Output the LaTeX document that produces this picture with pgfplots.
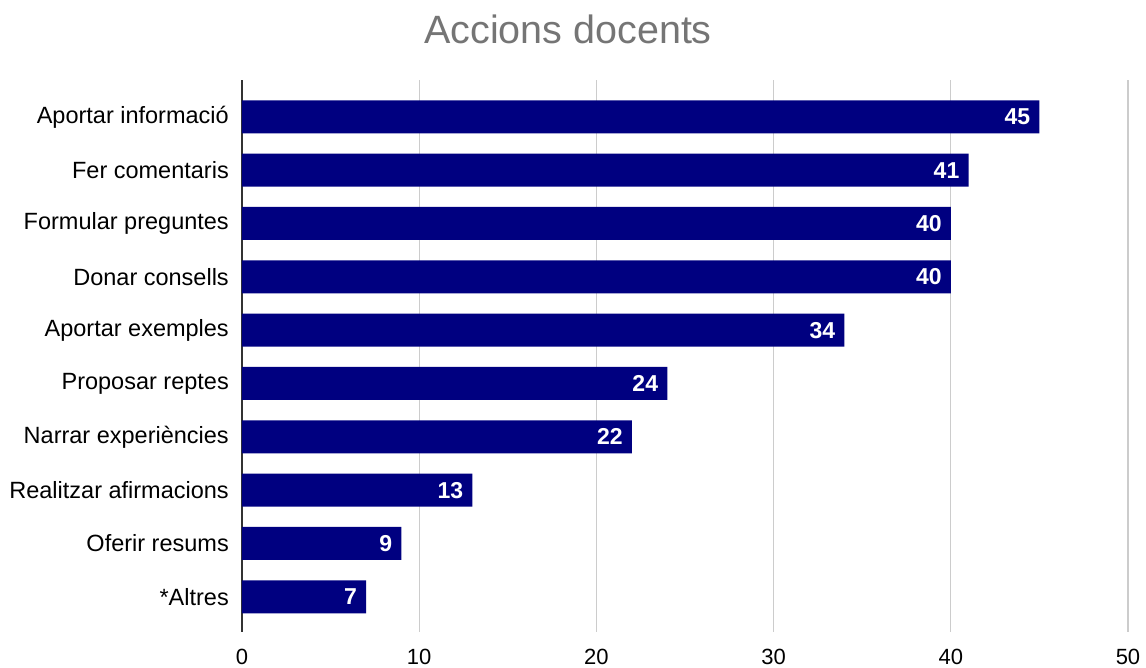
\documentclass[border=0pt]{standalone}
\usepackage{pgfplots}
\pgfplotsset{compat=1.18}
\usepackage{fontspec}
\setmainfont{Liberation Sans}
\definecolor{barnavy}{HTML}{000080}
\definecolor{titlegray}{HTML}{757575}
\definecolor{gridgray}{HTML}{CCCCCC}

\begin{document}
\begin{tikzpicture}
\useasboundingbox (-242pt,-36pt) rectangle (904pt,632pt);
\begin{axis}[
    at={(0pt,0pt)}, anchor=south west,
    scale only axis,
    width=886pt, height=552pt,
    xbar, bar width=33pt,
    xmin=0, xmax=50,
    xtick={10,20,30,40,50},
    extra x ticks={0},
    extra x tick style={grid style={draw=black!80, line width=1.5pt}},
    ymin=-0.69, ymax=9.66, y dir=reverse,
    ytick={0,...,9},
    yticklabels={Aportar informació, Fer comentaris, Formular preguntes, Donar consells, Aportar exemples, Proposar reptes, Narrar experiències, Realitzar afirmacions, Oferir resums, *Altres},
    axis line style={draw=none},
    major tick length=0pt,
    tick style={draw=none},
    xmajorgrids=true,
    grid style={draw=gridgray, line width=1.2pt},
    /pgf/number format/assume math mode=true,
    xticklabel style={font=\fontsize{22}{26}\selectfont, inner sep=0pt, anchor=north, yshift=-17pt},
    yticklabel style={font=\fontsize{23.5}{27}\selectfont, inner sep=0pt, anchor=east, xshift=-13pt},
    nodes near coords,
    nodes near coords align={anchor=east},
    every node near coord/.append style={anchor=east, inner sep=0pt, xshift=-9pt, text=white, font=\fontsize{23}{27}\selectfont\bfseries},
    clip=false,
]
\addplot[fill=barnavy, draw=none] coordinates {
    (45,0) (41,1) (40,2) (40,3) (34,4) (24,5) (22,6) (13,7) (9,8) (7,9)
};
\end{axis}
\node[anchor=base, text=titlegray, font=\fontsize{39.5}{46}\selectfont] at (326pt,588pt) {Accions docents};
\end{tikzpicture}
\end{document}
